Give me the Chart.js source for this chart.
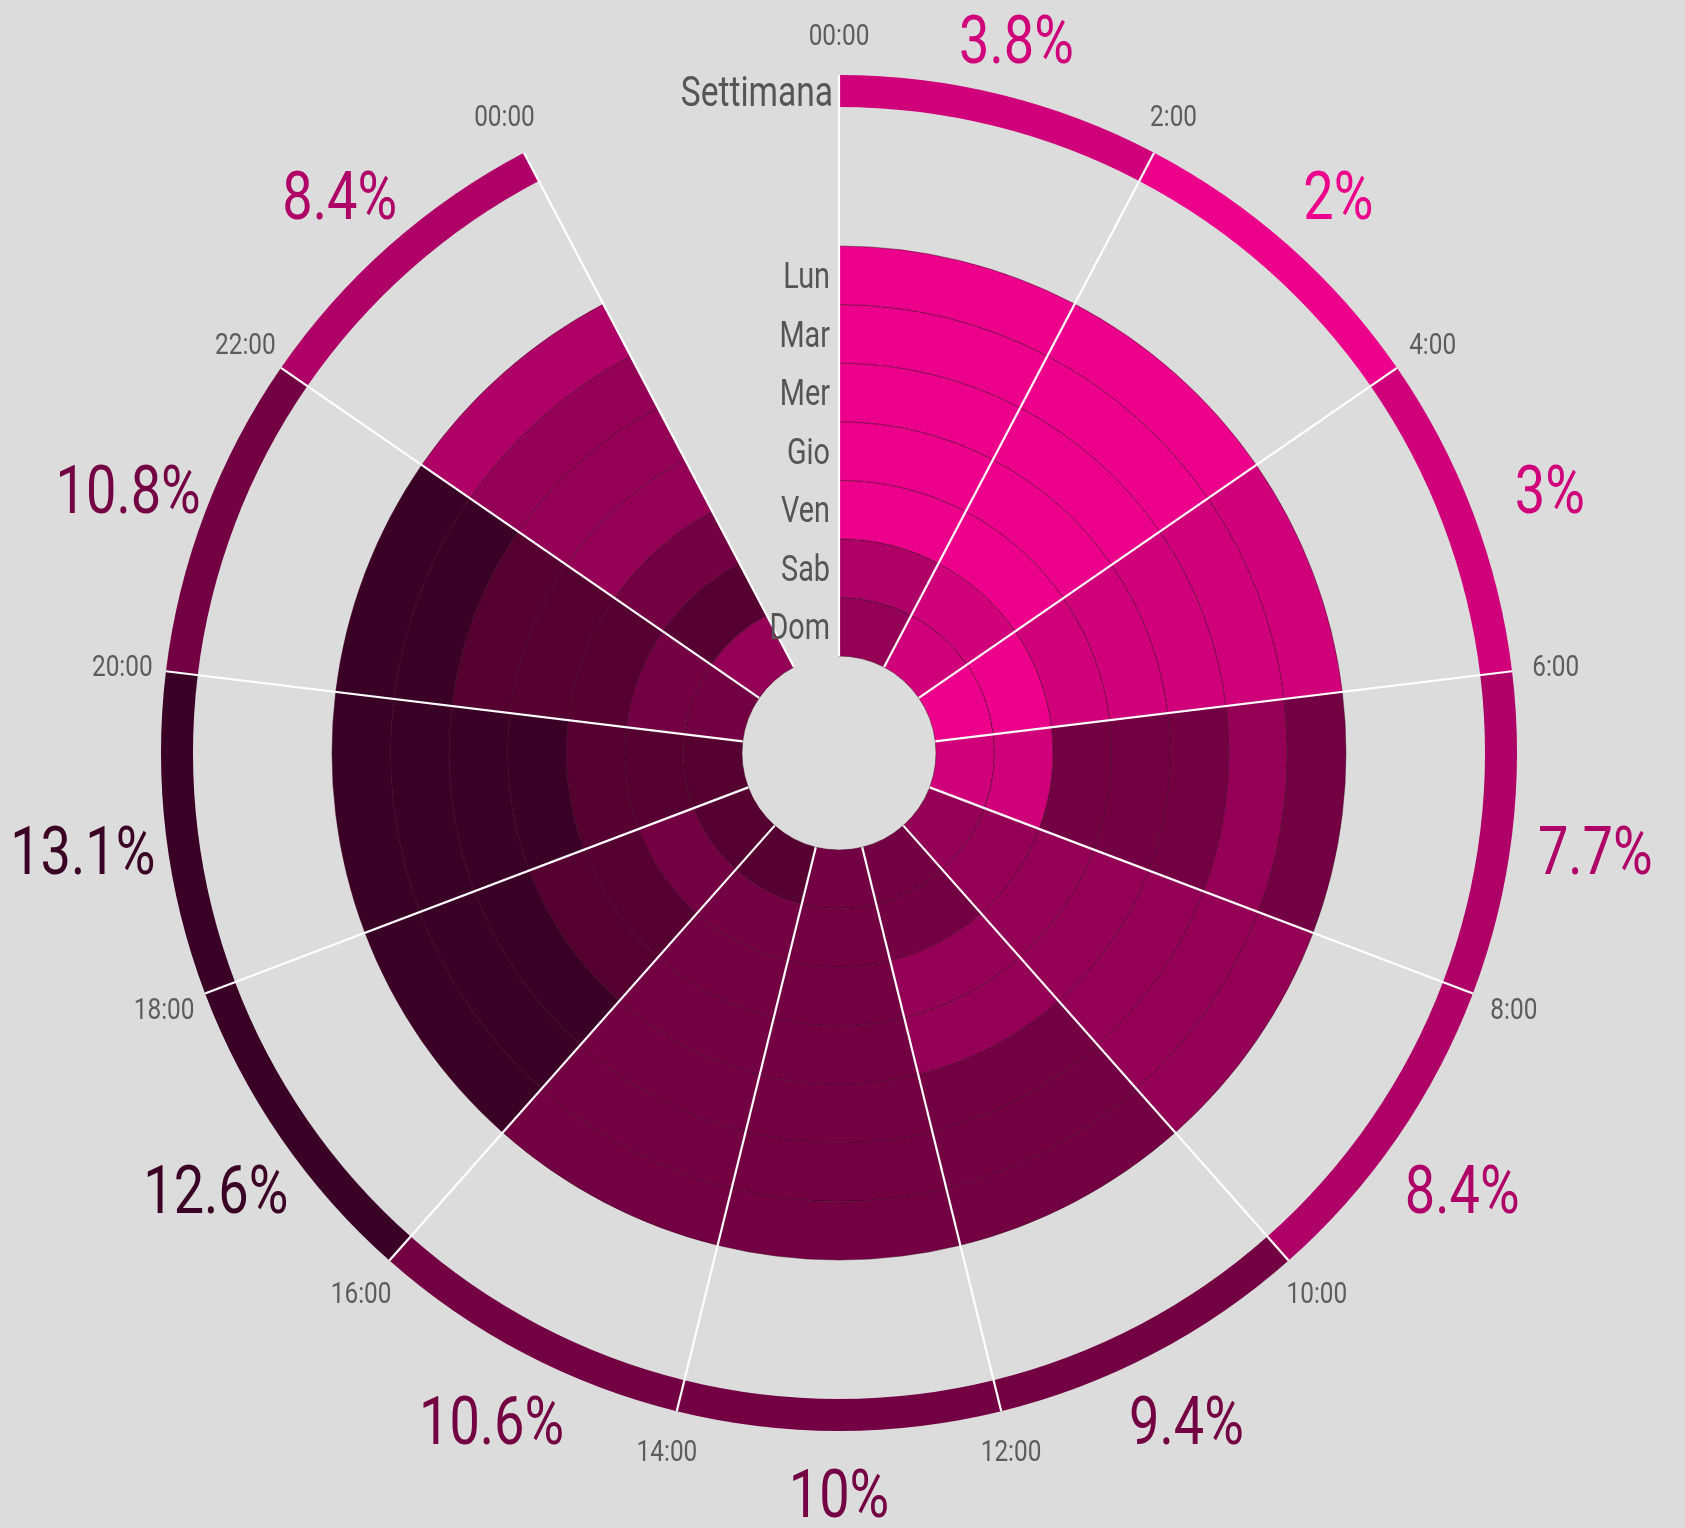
<!DOCTYPE html>
<html lang="it">
<head>
<meta charset="utf-8">
<title>Traffico per fascia oraria</title>
<script src="https://cdn.jsdelivr.net/npm/chart.js"></script>
<style>
  html, body { margin: 0; padding: 0; background: #dcdcdc; overflow: hidden; }
  canvas { display: block; }
</style>
</head>
<body>
<canvas id="ruota" width="1685" height="1528"></canvas>
<script>
// Etichette dei bordi delle fasce (2 ore ciascuna)
var fasce = ['00:00', '2:00', '4:00', '6:00', '8:00', '10:00', '12:00', '14:00', '16:00', '18:00', '20:00', '22:00', '00:00'];
var giorni = ['Lun', 'Mar', 'Mer', 'Gio', 'Ven', 'Sab', 'Dom'];
var oreFascia = 2;

// Quota settimanale per fascia (%)
var settimana = [3.8, 2, 3, 7.7, 8.4, 9.4, 10, 10.6, 12.6, 13.1, 10.8, 8.4];

var lun = [1.9, 1.2, 3.4, 9.8, 8.8, 10.1, 10.2, 10.4, 13.2, 13.6, 12.9, 6.5];
var mar = [2.0, 1.3, 3.2, 8.9, 8.7, 10.0, 10.3, 10.5, 12.7, 13.4, 12.5, 8.8];
var mer = [2.1, 1.4, 3.3, 9.6, 8.9, 9.9, 10.1, 10.6, 12.6, 13.3, 11.8, 9.0];
var gio = [2.2, 1.5, 3.1, 9.5, 8.8, 9.1, 10.2, 10.7, 11.9, 13.0, 11.6, 8.9];
var ven = [2.4, 1.6, 3.0, 9.3, 8.6, 8.9, 10.0, 10.5, 11.5, 12.1, 11.4, 10.2];
var sab = [6.3, 3.5, 2.3, 4.2, 8.7, 9.6, 9.9, 10.8, 10.4, 11.8, 10.6, 11.7];
var dom = [8.9, 4.1, 2.2, 3.6, 8.8, 9.4, 10.1, 11.3, 11.6, 12.0, 10.3, 8.7];
var valoriGiorni = [lun, mar, mer, gio, ven, sab, dom];

// Scala colori a soglie
var soglie = [2.5, 5, 8.5, 9.2, 11, 12.3];
var palette = ['#ec008b', '#d0007a', '#af0068', '#930055', '#730042', '#560031', '#3b0025'];

function colore(v) {
    var i = 0;
    while (i < soglie.length && v >= soglie[i]) i++;
    return palette[i];
}

// Geometria (pixel)
var raggioEsterno = 678;
var raggioBuco = 97;
var spessoreSettimana = 32;
var spazio = 139;
var spessoreGiorno = (raggioEsterno - raggioBuco - spessoreSettimana - spazio) / giorni.length;

// una fetta per fascia + una vuota per le etichette
var fette = fasce.map(function () { return oreFascia; });
var vuoto = 'rgba(0,0,0,0)';

function coloriAnello(valori) {
    return valori.map(colore).concat([vuoto]);
}

function bordiAnello(valori) {
    return valori.map(function () { return 1; }).concat([0]);
}

var datasets = [
    { label: 'Settimana', data: fette, backgroundColor: coloriAnello(settimana), borderWidth: 0, weight: spessoreSettimana },
    { label: '', data: fette, backgroundColor: vuoto, borderWidth: 0, weight: spazio }
];
for (var g = 0; g < giorni.length; g++) {
    datasets.push({
        label: giorni[g],
        data: fette,
        backgroundColor: coloriAnello(valoriGiorni[g]),
        borderColor: 'rgba(60,0,30,0.45)',
        borderWidth: bordiAnello(valoriGiorni[g]),
        weight: spessoreGiorno
    });
}

// testo stretto (il font originale è condensato)
function scrivi(ctx, testo, x, y, size, weight, fill, allinea, stretto) {
    ctx.save();
    ctx.translate(x, y + size * 0.355);
    ctx.scale(stretto, 1);
    ctx.font = weight + ' ' + size + 'px Roboto, "Liberation Sans", sans-serif';
    ctx.fillStyle = fill;
    ctx.textAlign = allinea;
    ctx.textBaseline = 'alphabetic';
    ctx.fillText(testo, 0, 0);
    ctx.restore();
}

// Linee bianche ed etichette
var etichette = {
    id: 'etichette',
    afterDatasetsDraw: function (chart) {
        var ctx = chart.ctx;
        var n = chart.data.datasets.length;
        var esterno = chart.getDatasetMeta(0).data;
        var interno = chart.getDatasetMeta(n - 1).data;
        var cx = esterno[0].x, cy = esterno[0].y;
        var rMax = esterno[0].outerRadius;
        var rMin = interno[0].innerRadius;
        var i, a, r;

        ctx.save();
        ctx.strokeStyle = '#ffffff';
        ctx.lineWidth = 2.2;
        for (i = 0; i < interno.length; i++) {
            a = interno[i].startAngle;
            ctx.beginPath();
            ctx.moveTo(cx + Math.cos(a) * rMin, cy + Math.sin(a) * rMin);
            ctx.lineTo(cx + Math.cos(a) * rMax, cy + Math.sin(a) * rMax);
            ctx.stroke();
        }
        ctx.restore();

        // orari ai bordi delle fasce
        for (i = 0; i < fasce.length; i++) {
            a = esterno[i].startAngle;
            r = rMax + 40 + 4 * Math.abs(Math.cos(a));
            scrivi(ctx, fasce[i], cx + Math.cos(a) * r, cy + Math.sin(a) * r, 29, 400, '#5c5c5c', 'center', 0.84);
        }

        // percentuali a metà fascia
        for (i = 0; i < settimana.length; i++) {
            a = (esterno[i].startAngle + esterno[i].endAngle) / 2;
            r = rMax + 57 + 27 * Math.abs(Math.cos(a));
            scrivi(ctx, settimana[i] + '%', cx + Math.cos(a) * r, cy + Math.sin(a) * r + 6, 66, 400, colore(settimana[i]), 'center', 0.82);
        }

        // nomi degli anelli lungo la mezzanotte
        var s = esterno[0];
        scrivi(ctx, 'Settimana', cx - 6, cy - (s.innerRadius + s.outerRadius) / 2, 43, 400, '#555555', 'right', 0.78);
        for (i = 0; i < giorni.length; i++) {
            var arco = chart.getDatasetMeta(i + 2).data[0];
            scrivi(ctx, giorni[i], cx - 9, cy - (arco.innerRadius + arco.outerRadius) / 2, 36, 400, '#555555', 'right', 0.8);
        }
    }
};

var ctx = document.getElementById('ruota').getContext('2d');
window.myChart = new Chart(ctx, {
    type: 'doughnut',
    data: {
        labels: fasce,
        datasets: datasets
    },
    options: {
        responsive: false,
        animation: false,
        events: [],
        radius: raggioEsterno,
        cutout: (raggioBuco / raggioEsterno * 100) + '%',
        layout: { padding: { left: 0, right: 7, top: 0, bottom: 22 } },
        plugins: {
            legend: { display: false },
            tooltip: { enabled: false }
        }
    },
    plugins: [etichette]
});
</script>
</body>
</html>
